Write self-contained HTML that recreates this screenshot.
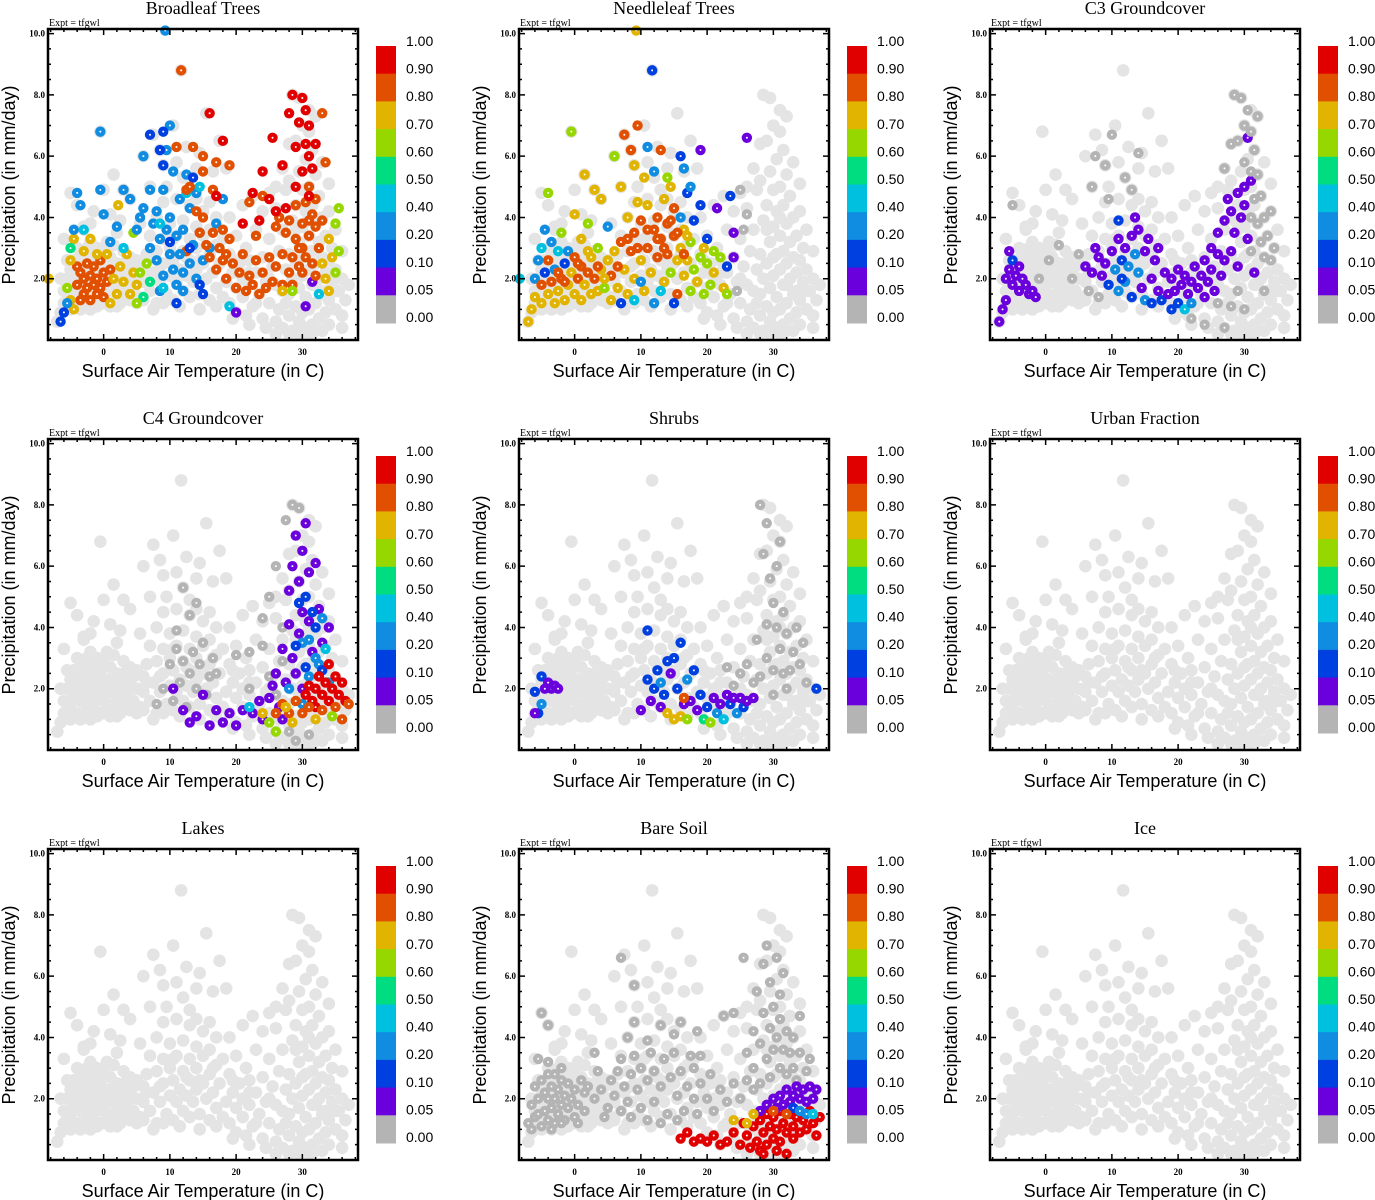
<!DOCTYPE html>
<html><head><meta charset="utf-8"><style>
html,body{margin:0;padding:0;background:#fff;}
svg{display:block;}
.ttl{font-family:"Liberation Serif",serif;font-size:18px;}
.ex{font-family:"Liberation Serif",serif;font-size:10px;}
.tk{font-family:"Liberation Serif",serif;font-size:9px;font-weight:bold;}
.ax{font-family:"Liberation Sans",sans-serif;font-size:18px;}
.cb{font-family:"Liberation Sans",sans-serif;font-size:14px;}
</style></head><body>
<svg id="fig" width="1375" height="1200" viewBox="0 0 1375 1200" xmlns="http://www.w3.org/2000/svg"></svg>
<script>
const titles=["Broadleaf Trees","Needleleaf Trees","C3 Groundcover","C4 Groundcover","Shrubs","Urban Fraction","Lakes","Bare Soil","Ice"];
const cbLabels=["1.00","0.90","0.80","0.70","0.60","0.50","0.40","0.20","0.10","0.05","0.00"];
const cbColors=["#e00000","#e05000","#e0b400","#96d700","#00dc80","#00c0e0","#108ce0","#0040e0","#6a00dc","#b4b4b4"];
// category index -> color (0 = 0.00 grey ... 9 = 0.90-1.00 red)
const catColors=["#b4b4b4","#6a00dc","#0040e0","#108ce0","#00c0e0","#00dc80","#96d700","#e0b400","#e05000","#e00000"];
const xTicks=[0,10,20,30];
const yTicks=[2,4,6,8,10];
const yTickLabels=["2.0","4.0","6.0","8.0","10.0"];
// background cloud: temperature / precipitation pairs
const cloud=[-7,0.6,-6.5,0.9,-6,1.2,-6,1.6,-5.5,1.3,-5.5,2.0,-5,1.0,-5,1.5,-5,2.3,-4.5,1.8,-4.5,2.6,-4,1.2,-4,2.1,-4,3.0,-3.5,1.6,-3.5,2.4,-3,1.1,-3,1.9,-3,2.7,-3,3.6,-2.5,1.4,-2.5,2.2,-2,1.0,-2,1.7,-2,2.5,-2,3.2,-1.5,1.3,-1.5,2.0,-1.5,2.8,-1,1.1,-1,1.6,-1,2.3,-1,3.0,-0.5,1.8,-0.5,2.6,0,1.2,0,2.0,0,2.9,0.5,1.5,0.5,2.3,1,1.1,1,1.9,1,2.7,1.5,1.4,1.5,2.2,1.5,3.1,2,1.7,2,2.5,2.5,1.2,2.5,2.0,3,1.5,3,2.3,3,2.9,3.5,1.8,4,1.3,4,2.1,4,2.7,4.5,1.6,5,2.0,5,2.6,5.5,1.4,6,1.9,6,2.4,
-6,3.3,-5,4.8,-4,4.4,-3,3.7,-1.5,4.2,-0.5,6.8,0,4.9,1,4.1,2,3.5,3,4.9,4,4.6,5.5,3.8,1.5,5.4,2.5,3.9,-2,3.8,
6,1.3,6.5,2.8,7,1.6,7,3.4,7.5,2.2,8,1.2,8,2.9,8,4.0,8.5,1.9,9,2.5,9,3.3,9,4.5,9.5,1.5,10,2.1,10,3.0,10,3.8,10.5,1.3,10.5,2.6,11,1.9,11,3.4,11,4.6,11.5,2.3,12,1.6,12,2.9,12,3.9,12.5,2.1,13,1.4,13,2.6,13,3.3,13,4.4,13.5,1.9,14,2.3,14,3.0,14,3.7,14.5,1.5,15,2.5,15,3.4,15,4.2,15.5,2.0,16,1.3,16,2.8,16,3.6,16.5,2.2,17,1.7,17,3.1,17,4.0,17.5,2.5,18,1.4,18,3.3,
6,6.0,7,5.0,7.5,6.7,8.5,6.2,9,5.7,9.5,5.0,10.5,7.0,11.7,8.8,12,5.3,12.5,6.3,13,4.9,14,5.6,14.5,6.1,15.5,7.4,16.5,5.5,17.5,6.5,18.5,5.6,14,4.6,16,4.5,11,5.8,
18.5,1.9,19,2.8,19,1.2,19.5,2.2,20,0.9,20,1.7,20,3.4,20.5,2.5,21,1.4,21,2.0,21.5,0.8,21.5,3.0,22,1.8,22,2.6,22.5,1.1,23,2.2,23,3.6,23.5,1.5,24,0.7,24,2.7,24.5,1.9,25,1.2,25,3.3,25.5,2.4,26,0.6,26,1.8,26,4.3,22.5,4.7,24,4.2,21,4.4,19,4.0,25,4.8,
26.5,1.0,26.5,2.9,27,0.4,27,1.6,27,3.6,27.5,2.3,27.5,4.9,28,0.8,28,1.5,28,2.8,28,5.2,28.5,0.3,28.5,2.0,28.5,3.9,29,1.1,29,2.5,29,4.4,29,6.5,29.5,0.6,29.5,1.7,29.5,3.2,29.5,5.5,30,0.9,30,2.1,30,3.7,30,4.9,30,7.0,30.5,0.4,30.5,1.4,30.5,2.8,30.5,4.2,30.5,5.9,31,1.0,31,2.3,31,3.4,31,5.0,31,6.8,31,7.5,31.5,0.5,31.5,1.8,31.5,2.9,31.5,4.4,31.5,6.2,32,1.2,32,2.5,32,3.8,32,5.4,32,7.3,32.5,0.7,32.5,2.0,32.5,3.2,32.5,4.7,33,1.5,33,2.7,33,4.0,33,5.8,33.5,0.9,33.5,2.2,33.5,3.4,34,1.3,34,2.6,34,4.2,34.5,1.9,34.5,3.0,35,1.0,35,2.3,35,3.6,35.5,1.6,36,0.8,36,2.0,36,2.9,36.5,1.3,37,1.8,28.5,8.0,29.5,7.9,28,6.4,27,5.6,26,5.0,34,5.1,
-6.5,2.0,-5.5,2.6,-4.5,1.1,-3.5,1.0,-2.5,3.0,-0.5,1.2,0.5,3.2,2,1.1,3.5,2.6,5,1.2,7.5,1.0,9,1.2,11.5,1.1,14.5,1.0,17,1.1,19.5,0.7,22,0.5,24.5,0.4,26,0.2,28,0.2,32,0.3,34,0.5,36,0.4,
-3.5,2.9,-1,2.0,0.5,1.9,2,2.0,3.5,2.2,4.5,2.4,6.5,2.2,8.5,2.4,10.5,3.3,12.5,2.7,14.5,2.6,16.5,3.0,19.5,2.6,22,2.2,23,1.2,25,2.0,27.5,1.2,29,3.6,30,2.7,31,4.0,32,1.8,33.5,1.6,35,1.6,29.5,0.2,31,0.2,33,0.3];
// per-panel coloured points: T, P, category
const p1=[-4,1.8,8,-3.5,2.2,8,-3,1.5,8,-3,2.0,8,-2.5,2.5,8,-2.5,1.7,8,-2,1.3,8,-2,2.1,8,-1.5,1.8,8,-1.5,2.4,8,-1,1.5,8,-1,2.0,8,-0.5,2.6,8,-0.5,1.7,8,0,2.2,8,0,1.4,8,0.5,1.9,8,1,2.3,8,-3.5,1.3,8,-4,2.4,8,
-5,2.6,7,-4.5,3.3,7,-3,2.9,7,-1,2.8,7,0.5,2.8,7,1.5,2.0,7,2,1.5,7,2.5,2.4,7,3,1.9,7,3.5,2.8,7,4,1.5,7,4.5,2.2,7,5,1.8,7,-5,1.3,7,-2,3.3,7,2.2,4.4,7,-4.5,1.0,7,1,1.2,7,
-5.5,1.7,6,-5,3.0,5,5.5,2.2,6,6,1.4,5,6.5,2.5,6,5,1.2,6,7,1.9,5,4.5,3.5,6,12.5,2.9,8,
-5.5,1.2,3,-4.5,3.6,3,-4,4.8,3,-3.5,4.4,3,-0.5,6.8,3,-0.5,4.9,3,0,4.1,3,1,3.2,3,2,3.7,3,3,4.9,3,4,4.6,3,6,6.0,3,5.5,4.0,3,7,4.9,3,7,3.0,3,7.5,3.8,3,8,2.6,3,8,4.2,3,8.5,3.3,3,9,2.1,3,9,4.9,3,9.5,3.6,3,10,2.8,3,10,4.0,3,10.5,2.3,3,10.5,5.5,3,11,3.4,3,11,1.8,3,11.5,2.8,3,11.5,4.6,3,12,2.2,3,12,3.6,3,12.5,5.4,3,13,2.5,3,13,4.3,3,13.5,3.1,3,14,2.0,3,14,4.8,3,14.5,3.5,3,15,2.6,3,16,3.0,3,17,3.8,3,18,4.6,3,9.5,6.2,3,10,7.0,3,6,4.3,3,5,3.6,3,8.5,1.6,3,12,1.6,3,
7,6.7,2,9,6.8,2,8.5,6.2,2,9,5.7,2,-6.5,0.6,2,-6,0.9,2,13.5,5.3,2,11,1.2,2,14.5,1.8,2,15,1.5,2,13,3.0,2,10,3.2,2,
14.5,5.0,4,12.5,4.8,4,9,1.7,4,3,3.0,4,-3,3.6,4,8.5,3.8,4,19,1.1,4,32.5,1.5,4,20,0.9,1,30.5,1.1,1,31.5,1.9,1,
12.5,4.9,8,13,5.0,8,14,4.2,8,14.5,3.5,8,15,4.0,8,15,5.5,8,15.5,3.1,8,16,2.7,8,16.5,3.5,8,17,2.3,8,17.5,3.0,8,18,2.6,8,18,3.6,8,18.5,2.0,8,19,3.3,8,19.5,2.5,8,20,1.7,8,20.5,2.2,8,21,2.8,8,21.5,1.6,8,22,2.1,8,22.5,1.8,8,23,2.6,8,23,3.4,8,23.5,1.5,8,24,2.2,8,24.5,1.7,8,25,2.7,8,25.5,1.9,8,26,2.4,8,26,3.7,8,27,1.8,8,27,2.8,8,27.5,3.5,8,28,2.2,8,28,3.9,8,28.5,2.7,8,29,3.3,8,29,4.4,8,29.5,2.4,8,30,3.0,8,30,3.8,8,30.5,4.5,8,30.5,2.7,8,31,3.4,8,31,5.0,8,31.5,4.1,8,31.5,2.5,8,32,3.7,8,32,4.6,8,32.5,3.0,8,33,3.9,8,33.5,5.8,8,33,7.4,8,24,4.7,8,22,4.5,8,13.5,6.3,8,15,6.0,8,11,6.3,8,17,5.8,8,19,5.7,8,11.7,8.8,8,16.5,4.9,8,18.5,2.8,8,26.5,4.0,8,29.5,3.0,8,31,3.9,8,30,2.2,8,32,2.1,8,28.5,1.8,8,
16,7.4,9,18,6.5,9,17,4.7,9,21,3.8,9,22.5,4.8,9,24,5.5,9,25.5,6.6,9,26,4.2,9,27,5.7,9,27.5,4.3,9,28,7.4,9,28.5,8.0,9,29,6.3,9,29,5.0,9,29.5,7.1,9,30,7.9,9,30,5.5,9,30.5,7.5,9,30.5,6.4,9,31,7.0,9,31,6.0,9,31.5,5.6,9,32,6.4,9,31,4.7,9,25,4.6,9,23.5,3.9,9,
33,2.5,7,34,3.3,7,34.5,2.7,7,33.5,2.0,7,35,3.8,6,35.5,4.3,6,35.5,2.9,6,35,2.2,6,34,1.6,7,27,1.6,7,28.5,1.6,6,9.3,10.1,3,-8.3,2.0,7];
const p2=[-7,0.6,7,-6.5,1.0,7,-6,1.4,7,-6,2.0,3,-5.5,2.6,3,-5,1.2,7,-5,1.8,8,-5,3.0,4,-4.5,2.2,2,-4.5,3.6,3,-4,1.5,7,-4,2.6,8,-4,4.8,6,-3.5,1.9,8,-3.5,3.2,3,-3,1.2,7,-3,2.3,3,-2.5,1.6,7,-2.5,2.9,4,-2,2.0,8,-2,3.5,6,-1.5,1.3,7,-1.5,2.5,2,-1,1.8,7,-1,2.9,3,-0.5,6.8,6,-0.5,2.2,7,0,1.5,7,0,2.7,8,0,4.1,7,0.5,2.0,8,1,1.3,7,1,2.4,8,1,3.3,7,1.5,1.8,7,1.5,5.4,7,2,2.2,8,2,3.8,6,2.5,1.5,7,2.5,2.7,7,3,2.0,8,3,4.9,7,3.5,1.6,7,3.5,3.0,6,4,2.3,7,4,4.6,7,4.5,1.7,6,5,2.6,7,5,3.7,3,5.5,1.3,7,5.5,2.1,8,6,6.0,6,6,2.9,7,6.5,1.7,7,7,3.2,8,7,5.0,7,7.5,6.7,8,7.5,2.3,7,8,4.0,7,8,1.5,7,8.5,6.2,8,8.5,2.9,8,9,5.7,7,9,3.5,8,9,2.0,7,9.5,7.0,8,9.5,4.5,7,10,2.6,7,10,3.9,8,10.5,5.3,7,10.5,1.6,7,11,3.0,8,11,4.4,7,11.7,8.8,2,11.5,2.2,7,12,3.6,8,12,5.5,3,12.5,2.7,8,12.5,4.0,8,13,3.3,8,13,6.2,8,13.5,1.9,7,13.5,4.6,7,14,2.8,8,14,3.8,8,14.5,5.0,7,14.5,2.2,6,15,3.4,8,15,4.3,8,15.5,2.6,7,15.5,1.5,8,16,3.0,7,16,4.0,3,16,6.0,2,16.5,2.1,7,16.5,3.6,7,17,4.8,2,17,2.6,7,17.5,3.2,6,17.5,1.6,6,18,2.3,6,18,3.9,2,18.5,1.9,7,19,2.7,6,19,4.4,2,19.5,1.5,6,20,2.5,6,20,3.3,2,20.5,1.8,6,21,2.2,7,22,2.7,6,22.5,1.7,7,23,2.4,2,23.5,4.7,2,24,3.5,1,23,1.5,6,14,5.3,6,11,6.3,3,16.5,5.6,3,19,6.2,1,26,6.6,1,21.5,4.3,1,24,2.7,1,12,1.2,3,7,1.2,2,10,1.9,3,15,1.2,2,17.5,5.0,3,13,1.6,4,9,1.3,4,
-2.5,2.2,8,-1.5,1.9,8,0.5,2.5,8,2,2.9,7,3.5,2.4,8,4.5,2.0,7,6.5,2.4,8,8,3.3,8,9.5,3.0,8,11,3.6,8,12.5,3.3,8,13.5,3.0,8,14.5,3.9,8,15.5,3.5,8,16.5,2.8,8,17,3.4,7,19.5,3.0,7,21,2.9,6,
25,4.9,0,25.5,3.6,0,26,4.1,0,24.5,1.6,0,9.3,10.1,7,-8.3,2.0,4];
const p3=[-7,0.6,1,-6.5,1.0,1,-6,1.3,1,-6,2.0,1,-5.5,2.3,1,-5,2.6,2,-5,1.8,1,-4.5,2.1,1,-4,2.4,1,-4,1.6,1,-3.5,2.0,1,-3,1.8,1,-2.5,1.5,1,-2,1.6,1,-1.5,1.4,1,-5.5,2.9,1,
6,2.4,1,7,2.2,1,7.5,3.0,1,8,2.7,1,8.5,2.1,1,9,2.5,1,9.5,1.8,2,10,2.9,1,10.5,2.3,3,11,3.3,1,11,1.6,3,11.5,2.6,2,12,3.0,1,12,1.9,3,12.5,2.4,3,13,3.4,1,13,1.4,2,13.5,2.8,3,14,2.2,3,14,3.6,1,14.5,1.7,1,15,2.9,1,15,1.3,3,15.5,3.3,1,16,2.0,1,16,1.2,2,16.5,2.6,1,17,1.6,1,17,3.0,1,17.5,1.3,2,18,2.2,1,18.5,1.5,1,19,1.0,2,19,2.0,1,19.5,1.6,1,20,1.2,2,20,2.3,1,20.5,1.8,1,21,1.0,4,21,2.1,1,21.5,1.5,1,22,1.9,1,22,1.2,3,22.5,2.4,1,23,1.7,1,23.5,2.1,1,24,1.4,1,24,2.6,1,24.5,1.9,1,25,2.3,1,25,3.0,1,25.5,1.6,1,26,2.8,1,26,3.5,1,26.5,2.1,1,27,2.6,1,27,3.9,1,27.5,4.6,1,28,2.9,1,28,4.2,1,28.5,3.5,1,29,4.8,1,29,2.4,1,29.5,4.0,1,30,4.4,1,30,5.0,1,30.5,3.3,1,30.5,6.6,1,31,5.2,1,31.5,2.2,1,11,3.9,2,13.5,4.0,1,11.5,2.0,2,
27,5.6,0,28,6.4,0,28.5,8.0,0,29,6.5,0,29.5,7.9,0,30,7.0,0,30,5.8,0,30.5,7.5,0,31,6.8,0,31,5.5,0,31,4.0,0,31.5,4.6,0,31.5,6.2,0,32,5.4,0,32,3.8,0,32,7.3,0,32.5,4.7,0,32.5,3.2,0,33,4.0,0,33,2.7,0,33.5,3.4,0,34,4.2,0,34,2.6,0,31,2.9,0,30,1.0,0,29,1.6,0,28,1.1,0,26,1.2,0,34.5,3.0,0,33,1.6,0,
7,5.0,0,9,5.7,0,10,6.7,0,12,5.3,0,13,4.9,0,14,6.1,0,7.5,6.0,0,9.5,4.6,0,-5,4.4,0,0.5,2.6,0,-1,2.0,0,2,3.1,0,4,2.0,0,5,2.8,0,6.5,1.6,0,8,1.4,0,22,0.7,0,24,0.5,0,27,0.4,0];
const p4=[9,2.0,0,10,2.8,0,10.5,1.6,0,11,3.3,0,11.5,2.2,0,12,2.9,0,12.5,1.4,0,13,2.5,0,13.5,3.2,0,14,2.0,0,14.5,2.8,0,15,3.5,0,15.5,1.8,0,16,2.4,0,16.5,3.0,0,11,3.9,0,13,4.4,0,12,5.3,0,14,4.8,0,17,2.5,0,8,1.5,0,20,3.1,0,22,3.2,0,22,2.0,0,24,3.4,0,24,4.3,0,25,5.0,0,26,6.0,0,27.5,7.5,0,28.5,8.0,0,29.5,7.9,0,27,4.0,0,27,2.9,0,26,1.8,0,25,2.4,0,28,0.6,0,29,0.3,0,31,0.5,0,
10.5,2.0,1,12,1.3,1,13,0.9,1,14,1.1,1,15,1.8,1,16,0.8,1,17,1.3,1,18,0.9,1,19,1.2,1,20,0.8,1,21,1.3,1,22.5,1.2,1,23.5,1.6,1,24,1.0,1,25,1.7,1,25.5,2.1,1,26,2.5,1,26.5,1.4,1,27,3.3,1,27.5,2.2,1,28,4.1,1,28,5.2,1,28.5,3.0,1,28.5,6.0,1,29,7.0,1,29.5,5.5,1,29.5,3.8,1,30,6.5,1,30,4.5,1,30.5,7.4,1,31,5.8,1,31,4.2,1,31.5,3.2,1,32,6.1,1,32.5,4.6,1,33,3.5,1,29,2.5,1,30,2.0,1,34,4.0,1,27,1.0,1,
29.5,4.8,2,30,3.5,3,30.5,5.0,2,31,3.6,3,31.5,4.5,2,32,3.0,3,32,4.0,2,32.5,2.8,3,33,4.3,3,33,2.6,2,30.5,2.7,2,29,3.4,2,31,2.4,3,33.5,3.3,4,34,2.2,3,30,1.5,3,28,2.0,3,
30.5,1.8,9,31,2.1,9,31.5,1.6,9,32,2.0,9,32.5,2.4,9,33,1.8,9,33.5,2.2,9,34,1.6,9,34.5,2.0,9,35,2.4,9,35.5,1.8,9,36,2.2,9,36.5,1.6,9,32,1.4,9,34,2.8,9,
26,1.2,8,27,1.5,8,28,1.2,8,29,1.6,8,30,1.2,8,31,1.4,8,33,1.3,8,35,1.4,8,37,1.5,8,36,1.0,8,28.5,0.9,7,27.5,1.4,7,24,1.2,7,22,1.4,4,25,0.9,6,26,0.6,6,32,1.0,7,34.5,1.1,6];
const p5=[-6,1.9,2,-5.5,1.2,2,-5,2.4,2,-4.5,2.0,1,-4,2.2,1,-3.5,2.0,1,-3,2.1,1,-2.5,2.0,1,-6,1.2,1,-5,1.5,3,
10,1.3,1,11,3.9,2,11,2.3,2,11.5,1.6,1,12,2.0,2,12.5,2.6,2,13,1.4,1,13,2.2,3,13.5,1.8,2,14,2.9,2,14,1.2,7,14.5,2.5,1,15,1.0,7,15,3.0,2,15.5,2.0,2,16,3.5,2,16,1.1,7,16.5,1.5,1,17,2.3,3,17,1.0,6,17.5,1.6,1,18,2.6,2,18.5,1.3,1,19,1.8,2,19.5,1.0,5,20,1.4,2,20.5,0.9,6,21,1.7,1,21.5,1.2,3,22,1.5,1,22.5,1.0,4,23,1.8,1,23.5,1.5,2,24,1.7,1,24.5,1.2,3,25,1.7,1,25.5,1.4,2,26,1.6,1,27,1.7,1,36.5,2.0,2,16.5,1.7,8,
28,8.0,0,29,7.4,0,28.5,6.4,0,29.5,5.6,0,30,4.8,0,30.5,4.0,0,31,3.3,0,32,3.8,0,33,3.2,0,33.5,4.0,0,34,2.8,0,34.5,3.5,0,31.5,2.5,0,30,2.6,0,29,3.0,0,28,2.4,0,27,2.2,0,26,2.8,0,25,2.5,0,24,2.1,0,23,2.7,0,30,1.8,0,32,2.0,0,35,2.2,0,27.5,3.6,0,29,4.1,0,30.5,6.0,0,31,6.8,0,31.5,4.5,0,32.5,2.6,0];
const p6=[];
const p7=[];
const p8=[-7,1.2,0,-6.5,1.8,0,-6,2.4,0,-6,1.4,0,-5.5,2.0,0,-5,1.1,0,-5,2.6,0,-4.5,1.6,0,-4.5,2.2,0,-4,1.3,0,-4,2.0,0,-4,2.8,0,-3.5,1.7,0,-3.5,2.4,0,-3,1.2,0,-3,2.0,0,-3,2.8,0,-2.5,1.5,0,-2.5,2.3,0,-2,1.8,0,-2,2.6,0,-1.5,1.3,0,-1.5,2.1,0,-1,1.7,0,-1,2.5,0,-0.5,2.0,0,0,1.4,0,0,2.3,0,0.5,1.8,0,1,2.6,0,-5.5,3.3,0,-4,3.2,0,-2,3.0,0,-5,4.8,0,-4,4.4,0,-6.5,1.0,0,-5.5,1.5,0,-3.5,1.0,0,-2,1.2,0,0.5,1.2,0,1.5,1.6,0,1.5,2.2,0,
2,2.4,0,3,2.0,0,3.5,2.9,0,4,2.3,0,5,1.7,0,5.5,2.6,0,6,2.1,0,6.5,2.9,0,7,1.6,0,7,3.3,0,7.5,2.4,0,8,1.9,0,8.5,2.8,0,9,3.4,0,9.5,2.3,0,10,1.7,0,10,3.0,0,11,2.6,0,11.5,3.5,0,12,1.9,0,12,2.9,0,13,2.4,0,13.5,3.3,0,14,1.5,0,14.5,2.7,0,15,3.5,0,15.5,2.1,0,16,2.9,0,16.5,1.6,0,17,2.4,0,17.5,3.4,0,18,2.0,0,18,3.0,0,18.5,1.5,0,19,2.5,0,19,3.4,0,20,2.0,0,20.5,2.8,0,21,1.6,0,22,2.3,0,23,1.9,0,24,2.5,0,25,2.0,0,13,4.4,0,11,3.9,0,9,4.5,0,8,4.0,0,7,6.6,0,9,5.7,0,16,4.5,0,15,4.1,0,18.5,4.2,0,3,3.5,0,4.5,1.4,0,8.5,1.4,0,11,1.3,0,13,1.2,0,15.5,1.3,0,
26,3.5,0,27,3.0,0,27,4.2,0,27.5,5.5,0,28,2.5,0,28,3.8,0,28.5,4.8,0,28.5,6.4,0,29,3.3,0,29,7.0,0,29.5,2.7,0,29.5,4.3,0,29.5,5.8,0,30,3.6,0,30,5.0,0,30.5,4.0,0,30.5,6.6,0,31,3.0,0,31,4.6,0,31,5.4,0,31.5,3.6,0,31.5,6.1,0,32,4.2,0,32,2.8,0,32.5,3.5,0,33,4.0,0,33,3.0,0,33.5,2.6,0,34,3.5,0,34,4.7,0,35,2.9,0,35.5,3.3,0,27,2.3,0,26,2.6,0,24,4.8,0,25.5,6.6,0,22.5,4.7,0,
16,0.7,9,17,0.9,9,18,0.6,9,19,0.7,9,20,0.6,9,21,0.8,9,22,0.5,9,23,0.6,9,24,0.9,9,25,0.5,9,25.5,1.2,9,26,0.8,9,26.5,0.4,9,27,1.1,9,27.5,0.6,9,28,1.3,9,28,0.3,9,28.5,0.9,9,29,1.5,9,29,0.5,9,29.5,1.1,9,30,0.7,9,30,1.4,9,30.5,0.3,9,30.5,1.0,9,31,1.6,9,31,0.6,9,31.5,1.2,9,32,0.9,9,32,0.2,9,32.5,1.5,9,33,0.7,9,33,1.1,9,33.5,1.4,9,34,0.9,9,34.5,1.3,9,35,1.0,9,35.5,1.6,9,36,1.2,9,37,1.4,9,36.5,0.8,9,28.5,0.2,9,
29,1.8,1,30,2.0,1,31,2.1,1,31.5,1.8,1,32,2.3,1,32.5,1.9,1,33,2.1,1,33.5,2.4,1,34,2.0,1,34.5,2.3,1,35,1.9,1,35.5,2.4,1,36,2.0,1,36.5,2.3,1,30.5,1.7,1,28,1.6,1,33,1.7,2,34,1.6,3,35,1.5,3,36,1.5,4,32,1.5,8,27,1.5,7,26,1.2,7,24,1.3,7,30,1.6,8];
const p9=[];
const panels=[p1,p2,p3,p4,p5,p6,p7,p8,p9];

const NS="http://www.w3.org/2000/svg";
const svg=document.getElementById('fig');
const X0=48,X1=358,Y0=29,Y1=340,TMIN=-8.4,TMAX=38.4,PMIN=0,PMAX=10.15;
function sx(t){return X0+(t-TMIN)/(TMAX-TMIN)*(X1-X0);}
function sy(p){return Y1-(p-PMIN)/(PMAX-PMIN)*(Y1-Y0);}
function mk(tag,attrs,parent){const e=document.createElementNS(NS,tag);for(const k in attrs)e.setAttribute(k,attrs[k]);parent.appendChild(e);return e;}
function txt(parent,x,y,s,cls,anchor){const e=mk('text',{x:x,y:y,'class':cls,'text-anchor':anchor||'start'},parent);e.textContent=s;return e;}

for(let i=0;i<9;i++){
  const col=i%3,row=Math.floor(i/3);
  const g=mk('g',{transform:`translate(${col*471},${row*410})`},svg);
  
  
  const t=txt(g,203,14,titles[i],'ttl','middle');
  
  
  const ex=txt(g,49,26,'Expt = tfgwl','ex');
  
  
  const cg=mk('g',{},g);
  
  
  for(let k=0;k<cloud.length;k+=2){
    const c=mk('circle',{cx:sx(cloud[k]),cy:sy(cloud[k+1]),r:6.3,fill:'#e4e4e4'},cg);
    
    
  }
  const pg=mk('g',{},g);
  
  
  const d=panels[i];
  for(let k=0;k<d.length;k+=3){
    const c=mk('circle',{cx:sx(d[k]),cy:sy(d[k+1]),r:5.2,fill:catColors[d[k+2]]},pg);
    
    
    mk('circle',{cx:sx(d[k]),cy:sy(d[k+1]),r:1,fill:'#fff'},pg);
  }
  const box=mk('rect',{x:X0,y:Y0,width:X1-X0,height:Y1-Y0,fill:'none',stroke:'#000','stroke-width':2.5},g);
  
  
  let tp='';
  for(let v=-8;v<=38;v+=2){const x=sx(v);const L=(v%10===0)?6:3;tp+=`M${x},${Y1}v${-L}M${x},${Y0}v${L}`;}
  for(let v=0.5;v<=10;v+=0.5){const y=sy(v);const L=(Math.abs(v%2)<1e-6)?6:3;tp+=`M${X0},${y}h${L}M${X1},${y}h${-L}`;}
  const ticks=mk('path',{d:tp,stroke:'#000','stroke-width':1.5,fill:'none'},g);
  
  
  xTicks.forEach(v=>{const e=txt(g,sx(v),355,String(v),'tk','middle');
    
    });
  yTicks.forEach((v,j)=>{const e=txt(g,45,sy(v)+3,yTickLabels[j],'tk','end');
    
    });
  const xt=txt(g,203,377,'Surface Air Temperature (in C)','ax','middle');
  
  
  const yt=txt(g,0,0,'Precipitation (in mm/day)','ax','middle');
  yt.setAttribute('transform','translate(15,185) rotate(-90)');
  
  
  const cb=mk('g',{},g);
  
  
  const segH=27.7;
  cbColors.forEach((c,j)=>{const r=mk('rect',{x:376,y:46+j*segH,width:20,height:segH+0.5,fill:c},cb);
    
    });
  cbLabels.forEach((s,j)=>{const e=txt(cb,406,46+j*27.6,s,'cb');
    
    });
}
</script>
</body></html>
